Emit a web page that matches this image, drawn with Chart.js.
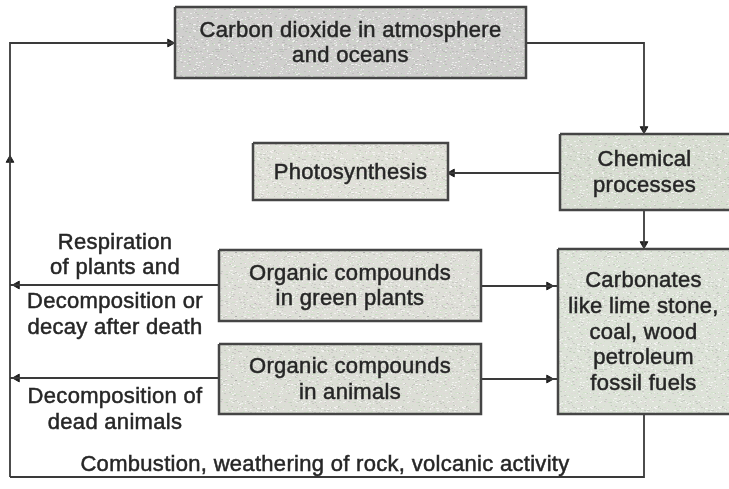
<!DOCTYPE html>
<html>
<head>
<meta charset="utf-8">
<script src="https://cdn.jsdelivr.net/npm/chart.js@4.4.1/dist/chart.umd.min.js"></script>
<style>
  body { margin: 0; background: #fff; }
  #wrap { width: 729px; height: 489px; position: relative; }
</style>
</head>
<body>
<div id="wrap"><canvas id="cycle"></canvas></div>
<script>
// boxes of the carbon cycle (diagram units = page pixels)
const boxNames = ['co2', 'photo', 'chem', 'plants', 'carb', 'animals'];
const boxText = [
  ['Carbon dioxide in atmosphere', 'and oceans'],
  ['Photosynthesis'],
  ['Chemical', 'processes'],
  ['Organic compounds', 'in green plants'],
  ['Carbonates', 'like lime stone,', 'coal, wood', 'petroleum', 'fossil fuels'],
  ['Organic compounds', 'in animals']
];
const boxX1 = [175, 253, 560, 219, 558, 219];
const boxX2 = [526, 448, 740, 481, 740, 481];
const boxY1 = [7, 143, 134, 250, 249, 344];
const boxY2 = [78, 200, 210, 321, 414, 414];
const boxFill = ['#cfcfcd', '#e0e1d9', '#d8ddd2', '#dedfd8', '#dde2d8', '#dcded6'];

// connector polylines
const links = [
  [[10, 477], [10, 43], [175, 43]],
  [[526, 43], [644, 43], [644, 134]],
  [[560, 173], [448, 173]],
  [[644, 210], [644, 249]],
  [[219, 285], [10, 285]],
  [[481, 286], [558, 286]],
  [[219, 378], [10, 378]],
  [[481, 379], [558, 379]],
  [[644, 414], [644, 477], [10, 477]]
];
// arrow heads: x, y, rotation (0 = up)
const arrowX = [170, 644, 452, 644, 17, 549, 17, 549, 10];
const arrowY = [43, 129, 173, 244, 285, 286, 378, 379, 160];
const arrowRot = [90, 180, 270, 180, 270, 90, 270, 90, 0];

// free labels
const noteText = ['Respiration', 'of plants and', 'Decomposition or', 'decay after death',
  'Decomposition of', 'dead animals', 'Combustion, weathering of rock, volcanic activity'];
const noteX = [115, 115, 115, 115, 115, 115, 325];
const noteY = [243, 268, 302, 328, 397, 423, 465];

const FONT = '22px "Liberation Sans", Arial, sans-serif';
const INK = '#262626';

// grainy scan look for the box fill
function speckle(base) {
  const c = document.createElement('canvas');
  c.width = 64; c.height = 64;
  const g = c.getContext('2d');
  g.fillStyle = base;
  g.fillRect(0, 0, 64, 64);
  let s = 7;
  const rnd = () => { s = (s * 16807) % 2147483647; return s / 2147483647; };
  const tones = ['rgba(255,255,255,0.6)', 'rgba(150,150,150,0.3)', 'rgba(190,225,180,0.35)', 'rgba(230,200,220,0.25)'];
  for (let i = 0; i < 800; i++) {
    g.fillStyle = tones[Math.floor(rnd() * tones.length)];
    g.fillRect(Math.floor(rnd() * 64), Math.floor(rnd() * 64), 1 + Math.floor(rnd() * 2), 1);
  }
  return g.createPattern(c, 'repeat');
}

const datasets = [];
boxNames.forEach((n, i) => {
  datasets.push({
    label: n,
    data: [
      { x: boxX1[i], y: boxY1[i] }, { x: boxX2[i], y: boxY1[i] },
      { x: boxX2[i], y: boxY2[i] }, { x: boxX1[i], y: boxY2[i] },
      { x: boxX1[i], y: boxY1[i] }
    ],
    showLine: true,
    fill: 'shape',
    backgroundColor: speckle(boxFill[i]),
    borderColor: '#454545',
    borderWidth: 2.5,
    pointRadius: 0,
    tension: 0,
    clip: false
  });
});
links.forEach((pts, i) => {
  datasets.push({
    label: 'link' + i,
    data: pts.map(p => ({ x: p[0], y: p[1] })),
    showLine: true,
    fill: false,
    borderColor: '#3a3a3a',
    borderWidth: 1.8,
    pointRadius: 0,
    tension: 0,
    clip: false
  });
});
datasets.push({
  label: 'arrows',
  data: arrowX.map((x, i) => ({ x: x, y: arrowY[i] })),
  showLine: false,
  pointStyle: 'triangle',
  pointRadius: 4.5,
  pointRotation: arrowRot,
  backgroundColor: '#222',
  borderColor: '#222',
  borderWidth: 1,
  clip: false
});

const textPlugin = {
  id: 'cycleText',
  afterDatasetsDraw(chart) {
    const ctx = chart.ctx;
    const xs = chart.scales.x, ys = chart.scales.y;
    ctx.save();
    ctx.font = FONT;
    ctx.letterSpacing = '0.3px';
    ctx.fillStyle = INK;
    ctx.strokeStyle = INK;
    ctx.lineWidth = 0.5;
    ctx.textAlign = 'center';
    ctx.textBaseline = 'middle';
    const put = (t, x, y) => {
      const px = xs.getPixelForValue(x), py = ys.getPixelForValue(y);
      ctx.fillText(t, px, py);
      ctx.strokeText(t, px, py);
    };
    boxText.forEach((lines, i) => {
      const right = Math.min(boxX2[i], 729);
      const cx = (boxX1[i] + right) / 2;
      const cy = (boxY1[i] + boxY2[i]) / 2 + 1;
      lines.forEach((t, j) => put(t, cx, cy + (j - (lines.length - 1) / 2) * 25.7));
    });
    noteText.forEach((t, i) => put(t, noteX[i], noteY[i]));
    ctx.restore();
  }
};

new Chart(document.getElementById('cycle').getContext('2d'), {
  type: 'scatter',
  data: { datasets: datasets },
  options: {
    responsive: true,
    maintainAspectRatio: false,
    animation: false,
    layout: { padding: 0, autoPadding: false },
    scales: {
      x: { type: 'linear', min: 0, max: 729, display: false },
      y: { type: 'linear', min: 0, max: 489, reverse: true, display: false }
    },
    plugins: {
      legend: { display: false },
      tooltip: { enabled: false }
    }
  },
  plugins: [textPlugin]
});
</script>
</body>
</html>
